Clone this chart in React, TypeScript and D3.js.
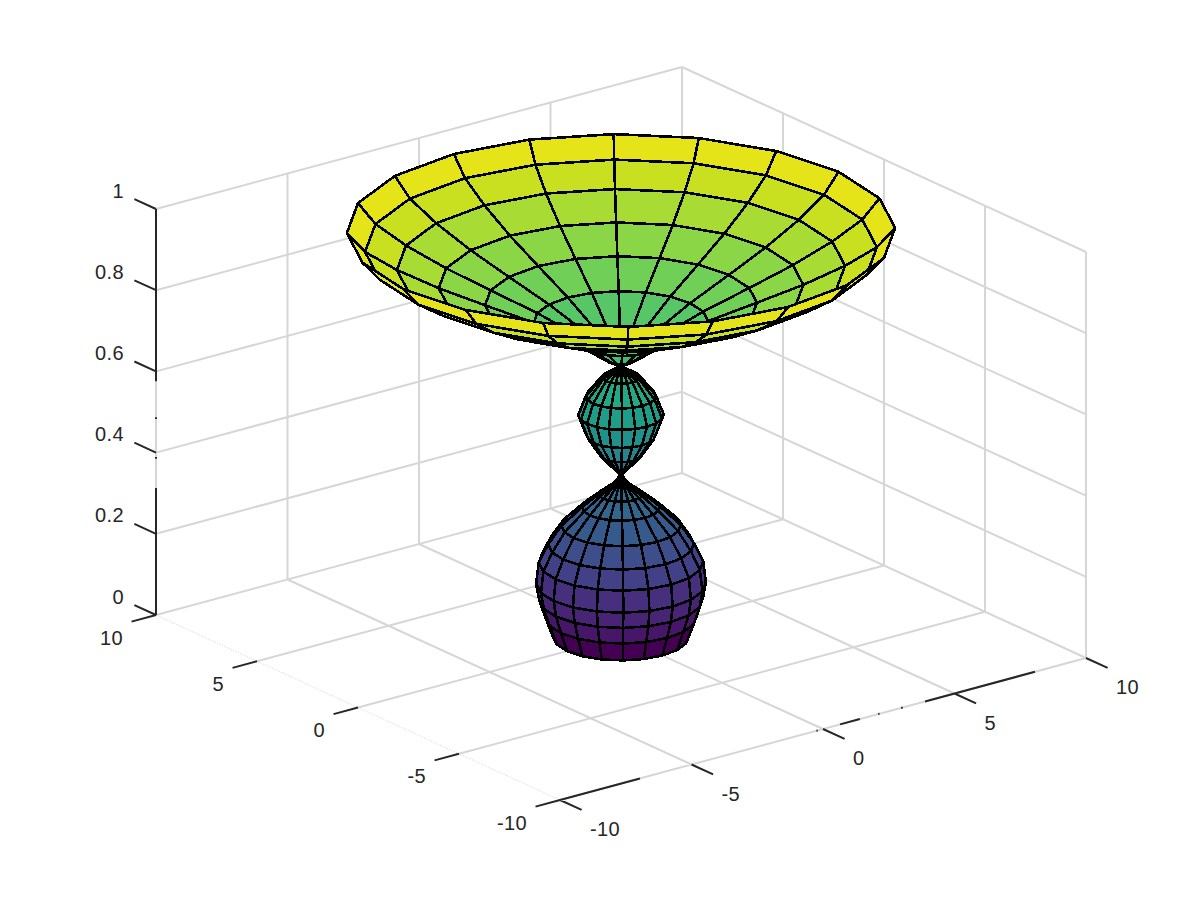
import React from "react";
import * as d3 from "d3";

const ringZ = [0, 0.048, 0.092, 0.132, 0.184, 0.228, 0.274, 0.319, 0.351, 0.378, 0.398, 0.447, 0.494, 0.546, 0.592, 0.639, 0.651, 0.666, 0.683, 0.728, 0.775, 0.819, 0.862, 0.908, 0.953, 1];
const ringR = [2.05, 2.28, 2.47, 2.56, 2.48, 2.2, 1.8, 1.18, 0.67, 0.2, 0.02, 0.62, 1.03, 1.29, 1.06, 0.57, 0.32, 0.02, 0.45, 1.3, 2.63, 4.1, 5.5, 6.76, 7.72, 8.27];
const angleCount = 20;

const xTicks = [-10, -5, 0, 5, 10];
const yTicks = [-10, -5, 0, 5, 10];
const zTicks = [0, 0.2, 0.4, 0.6, 0.8, 1];
const zTickLabels = ["0", "0.2", "0.4", "0.6", "0.8", "1"];

const xAxisDark: [number, number][] = [[-10, -6.96], [-0.25, -0.2], [0.65, 1.4], [2.1, 2.15], [2.97, 3.03], [3.88, 8.06]];
const zAxisDark: [number, number][] = [[0, 0.313], [0.385, 0.389], [0.483, 0.487], [0.576, 1]];

const GRID = "#d6d6d6";
const INK = "#262626";

const sxX = d3.scaleLinear().domain([-10, 10]).range([-263, 263]);
const sxY = d3.scaleLinear().domain([-10, 10]).range([202, -202]);
const syX = d3.scaleLinear().domain([-10, 10]).range([71, -71]);
const syY = d3.scaleLinear().domain([-10, 10]).range([92.5, -92.5]);
const syZ = d3.scaleLinear().domain([0, 1]).range([0, -406]);

const project = (x: number, y: number, z: number): [number, number] => [
  621 + sxX(x) + sxY(y),
  636.5 + syX(x) + syY(y) + syZ(z),
];
const depth = (x: number, y: number, z: number) => -0.527 * (x / 20) - 0.687 * (y / 20) + 0.5 * z;

const seg = (a: [number, number], b: [number, number]) => `M${a[0]},${a[1]}L${b[0]},${b[1]}`;

export default function App() {
  const angles = d3.range(angleCount).map((j) => (j * 2 * Math.PI) / angleCount);
  const faces: { d: string; fill: string; depth: number }[] = [];
  const line = d3.line().curve(d3.curveLinearClosed);
  for (let i = 0; i < ringZ.length - 1; i++) {
    for (let j = 0; j < angleCount; j++) {
      const t0 = angles[j];
      const t1 = angles[(j + 1) % angleCount];
      const c: [number, number, number][] = [
        [ringR[i] * Math.cos(t0), ringR[i] * Math.sin(t0), ringZ[i]],
        [ringR[i] * Math.cos(t1), ringR[i] * Math.sin(t1), ringZ[i]],
        [ringR[i + 1] * Math.cos(t1), ringR[i + 1] * Math.sin(t1), ringZ[i + 1]],
        [ringR[i + 1] * Math.cos(t0), ringR[i + 1] * Math.sin(t0), ringZ[i + 1]],
      ];
      const m = [0, 1, 2].map((k) => d3.mean(c, (p) => p[k]) as number);
      faces.push({
        d: line(c.map((p) => project(p[0], p[1], p[2]))) as string,
        fill: d3.interpolateViridis(Math.min(1, ringZ[i] + 0.007 * (ringZ[i] > 0 ? 1 : 0))),
        depth: depth(m[0], m[1], m[2]),
      });
    }
  }
  faces.sort((a, b) => a.depth - b.depth);

  const grid: string[] = [];
  xTicks.forEach((x) => {
    if (x > -10) grid.push(seg(project(x, -10, 0), project(x, 10, 0)));
    grid.push(seg(project(x, 10, 0), project(x, 10, 1)));
  });
  yTicks.forEach((y) => {
    grid.push(seg(project(-10, y, 0), project(10, y, 0)));
    grid.push(seg(project(10, y, 0), project(10, y, 1)));
  });
  zTicks.forEach((z) => {
    grid.push(seg(project(-10, 10, z), project(10, 10, z)));
    grid.push(seg(project(10, 10, z), project(10, -10, z)));
  });

  const dark: string[] = [];
  xAxisDark.forEach(([a, b]) => dark.push(seg(project(a, -10, 0), project(b, -10, 0))));
  zAxisDark.forEach(([a, b]) => dark.push(seg(project(-10, 10, a), project(-10, 10, b))));
  xTicks.forEach((x) => dark.push(seg(project(x, -10, 0), project(x, -11.07, 0))));
  yTicks.forEach((y) => dark.push(seg(project(-10, y, 0), project(-10.93, y, 0))));
  zTicks.forEach((z) => dark.push(seg(project(-10, 10, z), project(-10, 11.07, z))));

  const text = { fontFamily: "'Liberation Sans', Arial, sans-serif", fontSize: 20, letterSpacing: 0.4, fill: INK };

  return (
    <svg width={1200} height={900} style={{ position: "absolute", left: 0, top: 0, background: "#fff" }}>
      <path d={grid.join("")} fill="none" stroke={GRID} strokeWidth={2} />
      <path d={seg(project(-10, 10, 0), project(-10, -10, 0))} fill="none" stroke="#b5b5b5" strokeWidth={0.6} strokeDasharray="1 1.5" />
      <path d={dark.join("")} fill="none" stroke={INK} strokeWidth={2} />
      <g>
        {faces.map((f, i) => (
          <path key={i} d={f.d} fill={f.fill} stroke="#000" strokeWidth={2.6} strokeLinejoin="round" shapeRendering="crispEdges" />
        ))}
      </g>
      {zTicks.map((z, i) => {
        const p = project(-10, 10, z);
        return (
          <text key={z} x={p[0] - 32} y={p[1] - 11.5} textAnchor="end" {...text}>
            {zTickLabels[i]}
          </text>
        );
      })}
      {yTicks.map((y) => {
        const p = project(-10, y, 0);
        return (
          <text key={y} x={p[0] - 33} y={p[1] + 29.5} textAnchor="end" {...text}>
            {y}
          </text>
        );
      })}
      {xTicks.map((x) => {
        const p = project(x, -10, 0);
        return (
          <text key={x} x={p[0] + 30} y={p[1] + 36} textAnchor="start" {...text}>
            {x}
          </text>
        );
      })}
    </svg>
  );
}
